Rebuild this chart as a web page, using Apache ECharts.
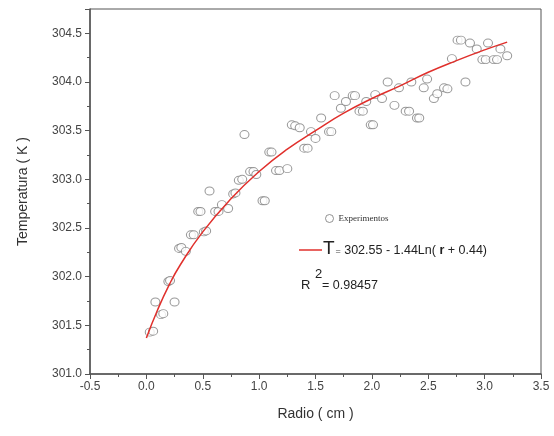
<!DOCTYPE html>
<html>
<head>
<meta charset="utf-8">
<script src="https://cdn.jsdelivr.net/npm/echarts@6/dist/echarts.min.js"></script>
<style>
  html, body { margin: 0; padding: 0; background: #fff; }
  #chart { width: 554px; height: 436px; }
</style>
</head>
<body>
<div id="chart"></div>
<script>
// puntos experimentales (radio en cm, temperatura en K)
const radio = [0.03, 0.06, 0.08, 0.13, 0.15, 0.195, 0.21, 0.25, 0.29, 0.31, 0.35, 0.395, 0.42, 0.46, 0.48,
  0.51, 0.53, 0.56, 0.61, 0.64, 0.67, 0.725, 0.77, 0.79, 0.82, 0.85, 0.87, 0.92, 0.95, 0.975,
  1.03, 1.05, 1.09, 1.11, 1.15, 1.18, 1.25, 1.29, 1.32, 1.36, 1.40, 1.43, 1.46, 1.50, 1.55,
  1.62, 1.64, 1.67, 1.725, 1.77, 1.83, 1.85, 1.89, 1.92, 1.95, 1.99, 2.01, 2.03, 2.09, 2.14,
  2.20, 2.24, 2.30, 2.33, 2.35, 2.40, 2.42, 2.46, 2.49, 2.55, 2.58, 2.64, 2.67, 2.71, 2.76,
  2.79, 2.83, 2.87, 2.93, 2.98, 3.01, 3.03, 3.08, 3.11, 3.14, 3.20];
const temperatura = [301.43, 301.44, 301.74, 301.61, 301.62, 301.95, 301.96, 301.74, 302.29, 302.30, 302.26, 302.43, 302.43, 302.67, 302.67,
  302.46, 302.47, 302.88, 302.67, 302.67, 302.74, 302.70, 302.85, 302.86, 302.99, 303.00, 303.46, 303.08, 303.08, 303.05,
  302.78, 302.78, 303.28, 303.28, 303.09, 303.09, 303.11, 303.56, 303.55, 303.53, 303.32, 303.32, 303.49, 303.42, 303.63,
  303.49, 303.49, 303.86, 303.73, 303.80, 303.86, 303.86, 303.70, 303.70, 303.80, 303.56, 303.56, 303.87, 303.83, 304.00,
  303.76, 303.94, 303.70, 303.70, 304.00, 303.63, 303.63, 303.94, 304.03, 303.83, 303.88, 303.94, 303.93, 304.24, 304.43,
  304.43, 304.00, 304.40, 304.34, 304.23, 304.23, 304.40, 304.23, 304.23, 304.34, 304.27];

// curva de ajuste
const ajusteX = [0, 0.1, 0.2, 0.3, 0.5, 0.75, 1.0, 1.25, 1.5, 1.75, 2.0, 2.25, 2.5, 2.75, 3.0, 3.2];
const ajusteY = [301.37, 301.66, 301.91, 302.12, 302.46, 302.80, 303.08, 303.31, 303.50, 303.68, 303.83, 303.96, 304.10, 304.22, 304.33, 304.41];

const xTicks = [-0.5, 3.5, 0.5];
const yTicks = [301.0, 304.75, 0.5];

let myChart = echarts.init(document.getElementById('chart'));
const axisColor = '#555';
const font = 'Liberation Sans, Arial, sans-serif';

let option = {
  animation: false,
  grid: {
    left: 90, right: 13, top: 9, bottom: 62,
    show: true, borderColor: axisColor, borderWidth: 1
  },
  legend: {
    data: [{ name: 'Experimentos', icon: 'circle' }],
    left: 320, top: 209,
    itemWidth: 8, itemHeight: 8, itemGap: 4,
    itemStyle: { color: '#fff', borderColor: '#777', borderWidth: 1 },
    textStyle: { fontFamily: 'Liberation Serif, serif', fontSize: 9, color: '#333' }
  },
  xAxis: {
    type: 'value',
    min: xTicks[0], max: xTicks[1], interval: xTicks[2],
    name: 'Radio ( cm )',
    nameLocation: 'middle',
    nameGap: 33,
    nameTextStyle: { fontFamily: font, fontSize: 14, color: '#333' },
    axisLine: { onZero: false, lineStyle: { color: axisColor, width: 1.5 } },
    axisTick: { length: 5, lineStyle: { color: axisColor } },
    minorTick: { show: true, splitNumber: 2, length: 3, lineStyle: { color: axisColor } },
    splitLine: { show: false },
    axisLabel: {
      fontFamily: font, fontSize: 12, color: '#444', margin: 7,
      formatter: v => v.toFixed(1)
    }
  },
  yAxis: {
    type: 'value',
    min: yTicks[0], max: yTicks[1], interval: yTicks[2],
    name: 'Temperatura ( K )',
    nameLocation: 'middle',
    nameGap: 60,
    nameTextStyle: { fontFamily: font, fontSize: 14, color: '#333' },
    axisLine: { onZero: false, lineStyle: { color: axisColor, width: 1.5 } },
    axisTick: { length: 5, lineStyle: { color: axisColor } },
    minorTick: { show: true, splitNumber: 2, length: 3, lineStyle: { color: axisColor } },
    splitLine: { show: false },
    axisLabel: {
      fontFamily: font, fontSize: 12, color: '#444', margin: 8,
      showMaxLabel: false,
      formatter: v => v.toFixed(1)
    }
  },
  series: [
    {
      name: 'Experimentos',
      type: 'scatter',
      symbol: 'circle',
      symbolSize: [9, 8],
      itemStyle: { color: '#fff', borderColor: '#808080', borderWidth: 1 },
      data: radio.map((r, i) => [r, temperatura[i]]),
      z: 2
    },
    {
      name: 'Ajuste',
      type: 'line',
      smooth: true,
      showSymbol: false,
      lineStyle: { color: '#e0302c', width: 1.5 },
      data: ajusteX.map((r, i) => [r, ajusteY[i]]),
      z: 3
    }
  ],
  graphic: [
    {
      type: 'line',
      shape: { x1: 299, y1: 250, x2: 322, y2: 250 },
      style: { stroke: '#e0302c', lineWidth: 1.5 }
    },
    {
      type: 'text',
      left: 323, top: 239,
      style: {
        text: '{t|T}{eq|=} {n|302.55 - 1.44Ln( }{b|r}{n| + 0.44)}',
        rich: {
          t: { fontFamily: font, fontSize: 19, fill: '#222' },
          eq: { fontFamily: font, fontSize: 9, fill: '#444', padding: [6, 0, 0, 1] },
          n: { fontFamily: font, fontSize: 12.5, fill: '#222', padding: [4, 0, 0, 0] },
          b: { fontFamily: font, fontSize: 12.5, fontWeight: 'bold', fill: '#222', padding: [4, 0, 0, 0] }
        }
      }
    },
    {
      type: 'text',
      left: 301, top: 279,
      style: { text: 'R', fontFamily: font, fontSize: 13, fill: '#222' }
    },
    {
      type: 'text',
      left: 315, top: 268,
      style: { text: '2', fontFamily: font, fontSize: 13, fill: '#222' }
    },
    {
      type: 'text',
      left: 322, top: 279,
      style: { text: '= 0.98457', fontFamily: font, fontSize: 12.5, fill: '#222' }
    }
  ]
};

myChart.setOption(option);
</script>
</body>
</html>
